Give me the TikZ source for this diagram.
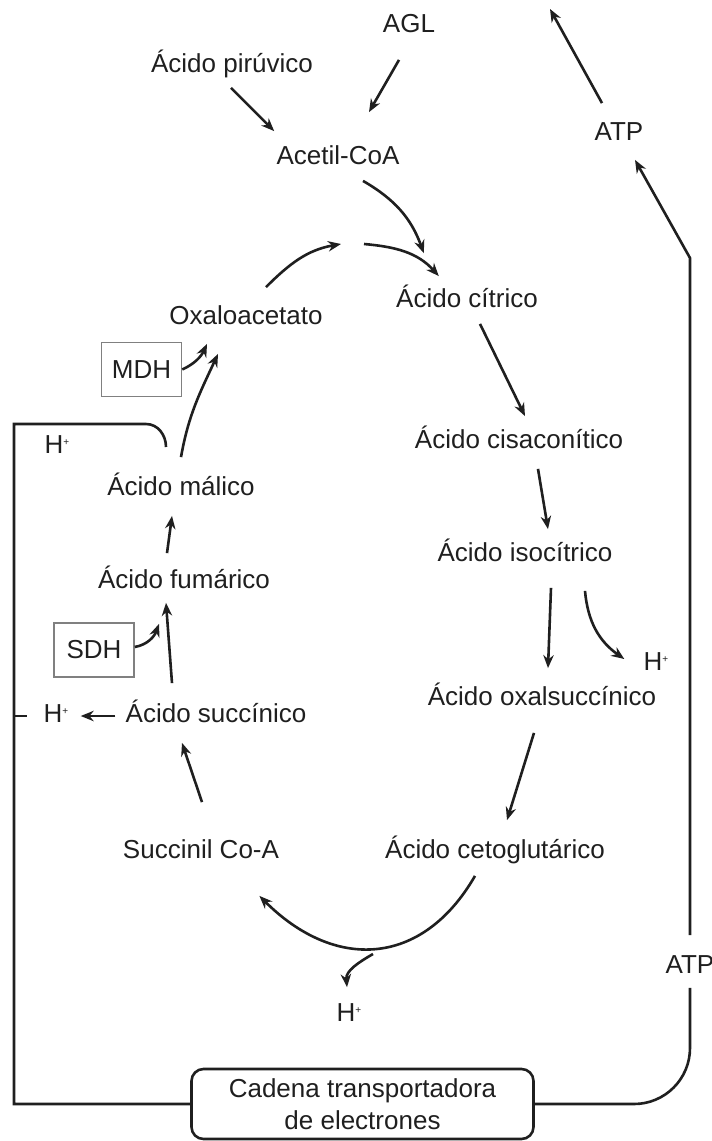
\documentclass[tikz,border=0pt]{standalone}
\usepackage{fontspec}
\setmainfont{Liberation Sans}
\usetikzlibrary{arrows.meta}
\definecolor{ink}{gray}{0.12}
\definecolor{boxgray}{gray}{0.5}
\newcommand{\Hp}{H\raisebox{0.55ex}{\tiny +}}

\begin{document}
\begin{tikzpicture}[x=0.5pt, y=-0.5pt, font=\fontsize{13}{16}\selectfont,
    met/.style={text=ink, inner sep=1pt, text height=9pt, text depth=2.5pt},
    enz/.style={draw=boxgray, line width=0.8pt, text=ink, inner sep=2pt,
                minimum width=40pt, minimum height=27pt},
    wire/.style={draw=ink, line width=1.3pt}]
\useasboundingbox (0,0) rectangle (712,1141);
\begin{scope}[>={Stealth[length=6.5pt,width=5.2pt]},
              every edge/.style={draw=ink, line width=1.3pt}]
    \node[met] (AGL) at (409,26) {AGL};
    \node[met] (Pir) at (232,66) {Ácido pirúvico};
    \node[met] (Acet) at (338,158) {Acetil-CoA};
    \node[met] (ATP1) at (619,134) {ATP};
    \node[met] (Cit) at (467,301) {Ácido cítrico};
    \node[met] (Oxa) at (246,318) {Oxaloacetato};
    \node[enz] (MDH) at (141.5,369.5) {MDH};
    \node[met] (Cis) at (519,442) {Ácido cisaconítico};
    \node[met] (Hl) at (57,447) {\Hp};
    \node[met] (Mal) at (181,489) {Ácido málico};
    \node[met] (Iso) at (525,555) {Ácido isocítrico};
    \node[met] (Fum) at (184,582) {Ácido fumárico};
    \node[enz] (SDH) at (94,650) {SDH};
    \node[met] (Hr) at (656,664) {\Hp};
    \node[met] (Oxs) at (542,699) {Ácido oxalsuccínico};
    \node[met] (Hs) at (56,716) {\Hp};
    \node[met] (Suc) at (216,716) {Ácido succínico};
    \node[met] (Scoa) at (201,852) {Succinil Co-A};
    \node[met] (Ceto) at (495,852) {Ácido cetoglutárico};
    \node[met] (Hb) at (349,1015) {\Hp};
    \node[met] (ATP2) at (690,967) {ATP};
    \node[draw=ink, line width=1.3pt, rounded corners=6pt, align=center, text=ink,
          minimum width=171pt, minimum height=35pt] (CTE) at (362.5,1104)
          {Cadena transportadora\\de electrones};
    \coordinate (J1) at (341,244);
    \coordinate (J2) at (364,244);
    \coordinate (Hout) at (373,954);
    \coordinate (Top) at (550,9);
    \coordinate (R1) at (690,258);
    \coordinate (L1) at (14,424);
    \coordinate (L2) at (166,447);

    % entry into the cycle
    \path [->] ([shift={(-10,20)}]AGL.south) edge ([shift={(31,-32)}]Acet.north);
    \path [->] ([shift={(-1,8)}]Pir.south) edge ([shift={(0,-13)}]Acet.north west);
    \path [->] ([shift={(25,9)}]Acet.south) edge[out=-30,in=110] ([shift={(30,-34)}]Cit.north west);
    \path [->] ([shift={(20,-17)}]Oxa.north) edge[out=45,in=190] (J1);
    \path [->] (J2) edge[out=-5,in=132] ([shift={(45,-11)}]Cit.north west);

    % right half
    \path [->] ([shift={(13,9)}]Cit.south) edge ([shift={(6,-12)}]Cis.north);
    \path [->] ([shift={(19,13)}]Cis.south) edge ([shift={(23,-12)}]Iso.north);
    \path [->] ([shift={(26,19)}]Iso.south) edge ([shift={(6,-17)}]Oxs.north);
    \path [->] ([shift={(60,22)}]Iso.south) edge[out=-85,in=145] ([shift={(-17,-5)}]Hr.west);
    \path [->] ([shift={(-8,20)}]Oxs.south) edge ([shift={(12,-18)}]Ceto.north);
    \path [->] ([shift={(-20,10)}]Ceto.south) edge[out=-120,in=-45,looseness=1.25] ([shift={(-22,30)}]Scoa.south east);
    \path [->] (Hout) edge[out=-150,in=95] ([shift={(-2,-14)}]Hb.north);

    % left half
    \path [->] ([shift={(1,-36)}]Scoa.north) edge ([shift={(-34,13)}]Suc.south);
    \path [->] (Suc.west) edge[shorten <=4pt, shorten >=5pt] (Hs.east);
    \path [->] ([shift={(-44,-19)}]Suc.north) edge ([shift={(-18,7)}]Fum.south);
    \path [->] ([shift={(0,-3)}]SDH.east) edge[out=10,in=-110] ([shift={(-25,28)}]Fum.south);
    \path [->] ([shift={(-17,-15)}]Fum.north) edge ([shift={(-9,13)}]Mal.south);
    \path [->] ([shift={(0,-18)}]Mal.north) edge[out=80,in=-115] ([shift={(-28,22)}]Oxa.south);
    \path [->] (MDH.east) edge[out=25,in=-115] ([shift={(-39,12)}]Oxa.south);

    % ATP going out
    \path [->] ([shift={(-17,-17)}]ATP1.north) edge (Top);
    \draw [wire, ->] ([shift={(0,-18)}]ATP2.north) -- (R1) -- ([shift={(16,12)}]ATP1.south);
\end{scope}
% electron transport chain: links back to both sides
\draw [wire, rounded corners=28pt] ([shift={(0,7)}]ATP2.south) |- (CTE.east);
\draw [wire] (CTE.west) -| (L1) -- ++(132,0) to[out=0,in=90] (L2);
\draw [wire] (L1 |- Hs) -- ++(13,0);
\end{tikzpicture}
\end{document}
